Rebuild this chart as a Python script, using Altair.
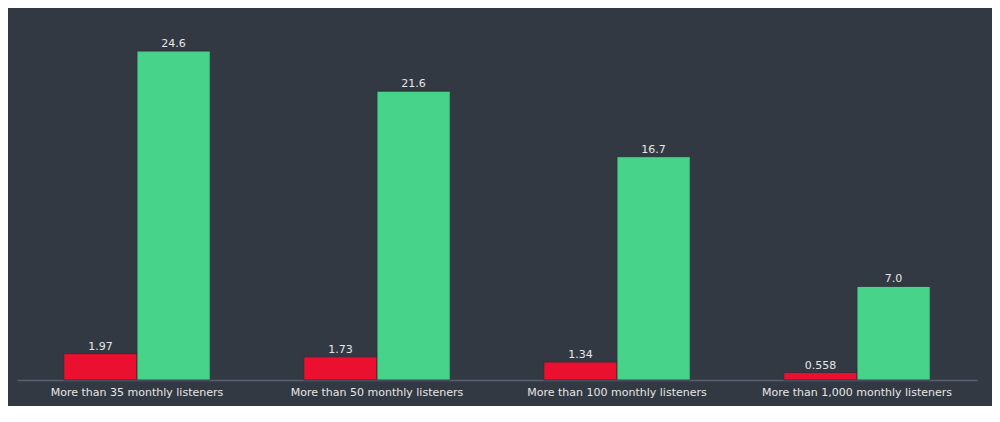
import altair as alt
import pandas as pd

categories = ["More than 35 monthly listeners", "More than 50 monthly listeners",
              "More than 100 monthly listeners", "More than 1,000 monthly listeners"]
series_names = ["Series A", "Series B"]
series_a = [1.97, 1.73, 1.34, 0.558]
series_b = [24.6, 21.6, 16.7, 7.0]
labels_a = ["1.97", "1.73", "1.34", "0.558"]
labels_b = ["24.6", "21.6", "16.7", "7.0"]

rows = []
for i, c in enumerate(categories):
    rows.append({"category": c, "series": series_names[0], "value": series_a[i], "label": labels_a[i]})
    rows.append({"category": c, "series": series_names[1], "value": series_b[i], "label": labels_b[i]})
df = pd.DataFrame(rows)

font = "DejaVu Sans"
x = alt.X("category:N", sort=categories, title=None,
          scale=alt.Scale(paddingInner=0.39, paddingOuter=0.195),
          axis=alt.Axis(labelAngle=0, labelColor="#e6e6e6", labelFont=font, labelFontSize=11,
                        labelLimit=0, domainColor="#596070", domainWidth=1.5, ticks=False,
                        labelPadding=6))
y = alt.Y("value:Q", scale=alt.Scale(domain=[0, 27], nice=False), axis=None)
xo = alt.XOffset("series:N", sort=series_names)

bars = alt.Chart(df).mark_bar(stroke="#2a2f38", strokeWidth=0.8).encode(
    x=x, xOffset=xo, y=y,
    color=alt.Color("series:N", sort=series_names,
                    scale=alt.Scale(domain=series_names, range=["#eb102f", "#48d38a"]),
                    legend=None),
)
text = alt.Chart(df).mark_text(dy=-7, color="#e6e6e6", font=font, fontSize=11).encode(
    x=x, xOffset=xo, y=y, text="label:N"
)

chart = (bars + text).properties(
    width=960, height=361, background="#333943",
    padding={"left": 9, "top": 11, "right": 15, "bottom": 9}
).configure_view(stroke=None)

chart.save("out.html", embed_options={"renderer": "svg", "actions": False})
